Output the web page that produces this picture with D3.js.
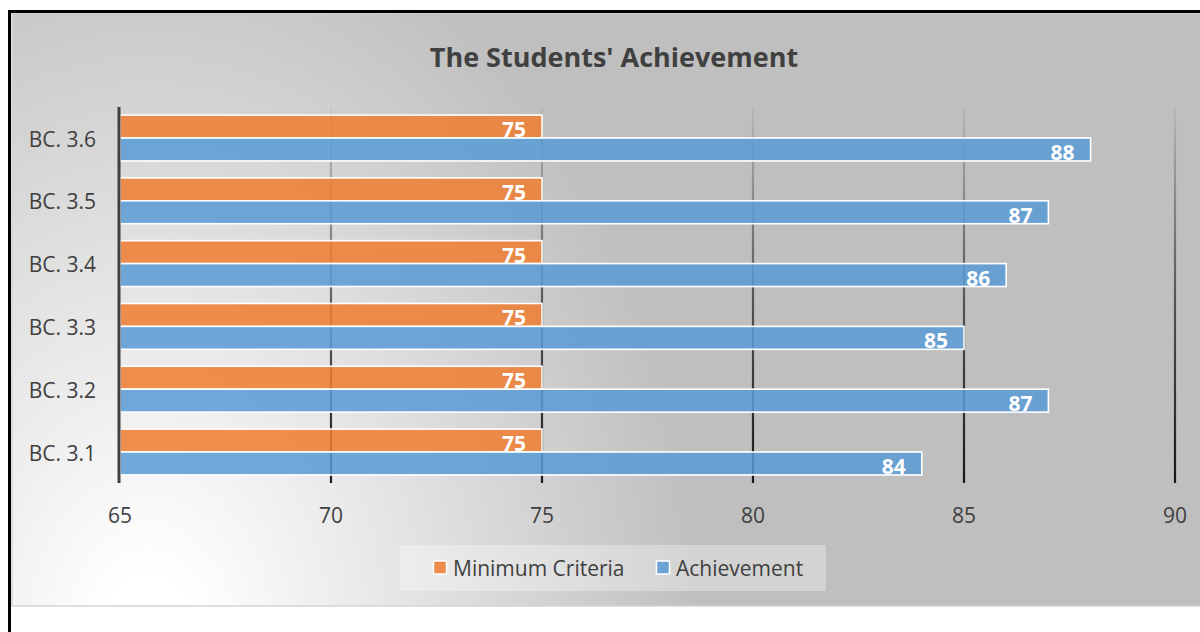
<!DOCTYPE html>
<html>
<head>
<meta charset="utf-8">
<script src="https://cdn.jsdelivr.net/npm/d3@7"></script>
<style>
  html, body { margin: 0; padding: 0; background: #ffffff; }
  svg { display: block; }
  text { font-family: "Open Sans", "DejaVu Sans", sans-serif; }
</style>
</head>
<body>
<svg id="chart" width="1200" height="632"></svg>
<script>
// ---- data ----
const categories = ["BC. 3.1", "BC. 3.2", "BC. 3.3", "BC. 3.4", "BC. 3.5", "BC. 3.6"];
const seriesNames = ["Minimum Criteria", "Achievement"];
const minimumCriteria = [75, 75, 75, 75, 75, 75];
const achievement = [84, 87, 85, 86, 87, 88];
const xTicks = [65, 70, 75, 80, 85, 90];
const titleText = "The Students' Achievement";

const seriesValues = [minimumCriteria, achievement];
const colors = ["#ED7D31", "#5B9BD5"];

const svg = d3.select("#chart");
const defs = svg.append("defs");

// background gradient (light at bottom-left, grey elsewhere)
const bg = defs.append("radialGradient")
  .attr("id", "bgGrad")
  .attr("gradientUnits", "userSpaceOnUse")
  .attr("cx", 0).attr("cy", 0).attr("r", 1)
  .attr("gradientTransform", "translate(150,640) scale(580,800)");
bg.append("stop").attr("offset", 0.08).attr("stop-color", "#ffffff");
bg.append("stop").attr("offset", 0.45).attr("stop-color", "#e4e4e4");
bg.append("stop").attr("offset", 0.95).attr("stop-color", "#bfbfbf");
bg.append("stop").attr("offset", 1).attr("stop-color", "#bfbfbf");

// gridline gradient
const gg = defs.append("linearGradient")
  .attr("id", "gridGrad")
  .attr("gradientUnits", "userSpaceOnUse")
  .attr("x1", 0).attr("y1", 107).attr("x2", 0).attr("y2", 483);
gg.append("stop").attr("offset", 0).attr("stop-color", "#000").attr("stop-opacity", 0.04);
gg.append("stop").attr("offset", 0.5).attr("stop-color", "#000").attr("stop-opacity", 0.55);
gg.append("stop").attr("offset", 1).attr("stop-color", "#000").attr("stop-opacity", 0.88);

// outer frame & chart area
svg.append("rect").attr("x", 12).attr("y", 13).attr("width", 1200).attr("height", 593)
  .attr("fill", "url(#bgGrad)").attr("stroke", "#d4d4d4").attr("stroke-width", 1.5);
svg.append("rect").attr("x", 9.5).attr("y", 11.5).attr("width", 1200).attr("height", 640)
  .attr("fill", "none").attr("stroke", "#000").attr("stroke-width", 3);

// scales
const x = d3.scaleLinear().domain([65, 90]).range([120, 1175]);
const y = d3.scaleBand().domain(categories.slice().reverse())
  .range([106.6, 483.4]).paddingInner(0.27).paddingOuter(0.135);
const ySub = d3.scaleBand().domain(seriesNames).range([0, y.bandwidth()]);

const plotTop = 107, plotBottom = 483;

// title
svg.append("text")
  .attr("x", 614).attr("y", 67)
  .attr("text-anchor", "middle")
  .attr("font-size", 27).attr("font-weight", "bold")
  .attr("fill", "#404040")
  .text(titleText);

// gridlines
svg.append("g").selectAll("line")
  .data(xTicks.filter(t => t !== 65))
  .join("line")
  .attr("x1", d => x(d)).attr("x2", d => x(d))
  .attr("y1", plotTop).attr("y2", plotBottom)
  .attr("stroke", "url(#gridGrad)").attr("stroke-width", 2.2);

// bars
const groups = svg.append("g").selectAll("g")
  .data(categories)
  .join("g")
  .attr("transform", d => `translate(0,${y(d)})`);

seriesNames.forEach((s, si) => {
  groups.append("rect")
    .attr("x", x(65))
    .attr("y", ySub(s))
    .attr("width", (d, i) => x(seriesValues[si][i]) - x(65))
    .attr("height", ySub.bandwidth())
    .attr("fill", colors[si]).attr("fill-opacity", 0.86)
    .attr("stroke", "#ffffff").attr("stroke-width", 1.6);
  groups.append("text")
    .attr("x", (d, i) => x(seriesValues[si][i]) - 16)
    .attr("y", ySub(s) + ySub.bandwidth() - 1)
    .attr("text-anchor", "end")
    .attr("font-size", 21).attr("font-weight", "bold")
    .attr("fill", "#ffffff")
    .text((d, i) => seriesValues[si][i]);
});

// y axis line
svg.append("line")
  .attr("x1", x(65) - 1).attr("x2", x(65) - 1)
  .attr("y1", plotTop).attr("y2", plotBottom)
  .attr("stroke", "#404040").attr("stroke-width", 3);

// y category labels
svg.append("g").selectAll("text")
  .data(categories)
  .join("text")
  .attr("x", 96)
  .attr("y", d => y(d) + y.bandwidth() / 2 + 8.5)
  .attr("text-anchor", "end")
  .attr("font-size", 21)
  .attr("fill", "#404040")
  .text(d => d);

// x tick labels
svg.append("g").selectAll("text")
  .data(xTicks)
  .join("text")
  .attr("x", d => x(d))
  .attr("y", 523)
  .attr("text-anchor", "middle")
  .attr("font-size", 21)
  .attr("fill", "#404040")
  .text(d => d);

// legend
svg.append("rect").attr("x", 400).attr("y", 545).attr("width", 426).attr("height", 46)
  .attr("fill", "#ffffff").attr("fill-opacity", 0.32);
const legendX = [433, 656];
seriesNames.forEach((s, si) => {
  svg.append("rect")
    .attr("x", legendX[si] + 0.5).attr("y", 561)
    .attr("width", 13).attr("height", 13)
    .attr("fill", colors[si]).attr("fill-opacity", 0.86)
    .attr("stroke", "#ffffff").attr("stroke-width", 1.5);
  svg.append("text")
    .attr("x", legendX[si] + 20).attr("y", 576)
    .attr("font-size", 21)
    .attr("fill", "#404040")
    .text(s);
});
</script>
</body>
</html>
